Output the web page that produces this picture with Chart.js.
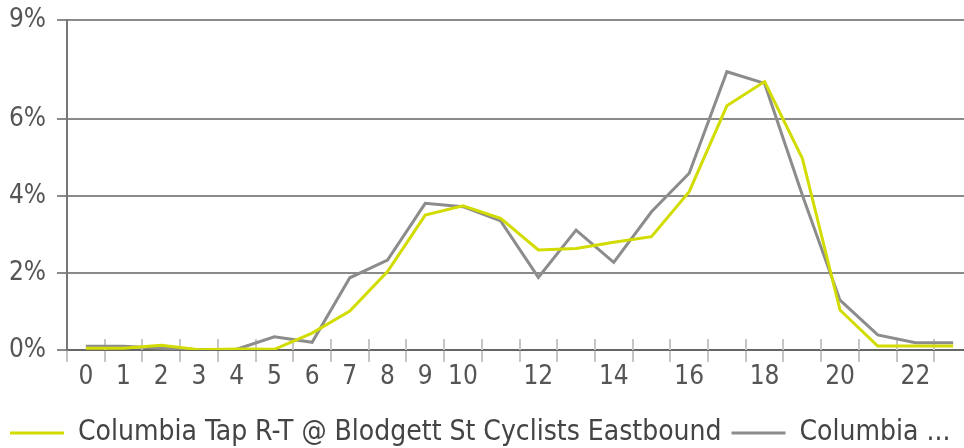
<!DOCTYPE html>
<html>
<head>
<meta charset="utf-8">
<title>Cyclists by hour</title>
<script src="https://cdn.jsdelivr.net/npm/chart.js@4/dist/chart.umd.min.js"></script>
<style>
    html, body { margin: 0; padding: 0; background: #fff; overflow: hidden; }
    #wrap { width: 972px; height: 448px; position: relative; }
</style>
</head>
<body>
<div id="wrap"><canvas id="hourChart"></canvas></div>
<script>
// Hour of day (categories)
const hours = [0, 1, 2, 3, 4, 5, 6, 7, 8, 9, 10, 11, 12, 13, 14, 15, 16, 17, 18, 19, 20, 21, 22, 23];
// Hours that get a label on the axis
const labelledHours = [0, 1, 2, 3, 4, 5, 6, 7, 8, 9, 10, 12, 14, 16, 18, 20, 22];

// Share of daily count (%)
const eastbound = [0.05, 0.05, 0.13, 0.01, 0.03, 0.02, 0.46, 1.06, 2.14, 3.68, 3.93, 3.59,
                   2.73, 2.77, 2.94, 3.09, 4.32, 6.66, 7.32, 5.23, 1.09, 0.11, 0.11, 0.11];
const other = [0.10, 0.10, 0.05, 0.01, 0.02, 0.36, 0.21, 1.97, 2.45, 4.00, 3.91, 3.52,
               1.98, 3.27, 2.39, 3.77, 4.82, 7.59, 7.27, 4.23, 1.36, 0.41, 0.20, 0.20];

// Y ticks as they sit on the original axis, and the labels it shows
const yTickValues = [0, 2.1, 4.2, 6.3, 9];
const yTickLabels = ['0%', '2%', '4%', '6%', '9%'];

const seriesNames = ['Columbia Tap R-T @ Blodgett St Cyclists Eastbound', 'Columbia ...'];

const FONT = '"DejaVu Sans Condensed", "DejaVu Sans", sans-serif';

// Little tick marks that cross the bottom axis
const tickCross = {
    id: 'tickCross',
    beforeDatasetsDraw(chart) {
        const x = chart.scales.x;
        const ctx = chart.ctx;
        const bottom = chart.chartArea.bottom;
        ctx.save();
        ctx.strokeStyle = '#c6c6c6';
        ctx.lineWidth = 2;
        for (let i = 1; i < hours.length; i++) {
            const px = Math.round(x.getPixelForValue(i - 0.5));
            ctx.beginPath();
            ctx.moveTo(px, bottom - 11);
            ctx.lineTo(px, bottom);
            ctx.stroke();
        }
        ctx.restore();
    }
};

const ctx = document.getElementById('hourChart').getContext('2d');
new Chart(ctx, {
    type: 'line',
    data: {
        labels: hours.map(String),
        datasets: [
            {
                label: seriesNames[0],
                data: eastbound,
                borderColor: '#d2dc00',
                backgroundColor: '#d2dc00',
                borderWidth: 3,
                pointRadius: 0,
                tension: 0
            },
            {
                label: seriesNames[1],
                data: other,
                borderColor: '#8c8c8c',
                backgroundColor: '#8c8c8c',
                borderWidth: 3,
                pointRadius: 0,
                tension: 0
            }
        ]
    },
    options: {
        responsive: true,
        maintainAspectRatio: false,
        animation: false,
        layout: { padding: 0 },
        plugins: {
            tooltip: { enabled: false },
            legend: {
                position: 'bottom',
                align: 'start',
                maxHeight: 39,
                labels: {
                    usePointStyle: true,
                    pointStyle: 'line',
                    pointStyleWidth: 54,
                    padding: 10,
                    color: '#444',
                    font: { family: FONT, size: 28 }
                }
            }
        },
        scales: {
            x: {
                offset: true,
                grid: {
                    offset: true,
                    drawOnChartArea: false,
                    tickLength: 12,
                    color: '#c6c6c6',
                    lineWidth: 2
                },
                border: { color: '#666', width: 2 },
                ticks: {
                    autoSkip: false,
                    maxRotation: 0,
                    padding: 0,
                    color: '#555',
                    font: { family: FONT, size: 26 },
                    callback: function(value) {
                        const h = hours[value];
                        return labelledHours.includes(h) ? String(h) : '';
                    }
                },
                afterFit: function(scale) { scale.height = 59; }
            },
            y: {
                min: 0,
                max: 9,
                afterBuildTicks: function(scale) {
                    scale.ticks = yTickValues.map(v => ({ value: v }));
                },
                grid: {
                    color: '#8a8a8a',
                    lineWidth: 2,
                    tickLength: 10
                },
                border: { color: '#777', width: 2 },
                ticks: {
                    padding: 11,
                    color: '#555',
                    font: { family: FONT, size: 26 },
                    callback: function(value) {
                        const i = yTickValues.indexOf(value);
                        return i >= 0 ? yTickLabels[i] : '';
                    }
                },
                afterFit: function(scale) {
                    scale.width = 67;
                    scale.paddingTop = 20;
                    scale.paddingBottom = 0;
                }
            }
        }
    },
    plugins: [tickCross]
});
</script>
</body>
</html>
